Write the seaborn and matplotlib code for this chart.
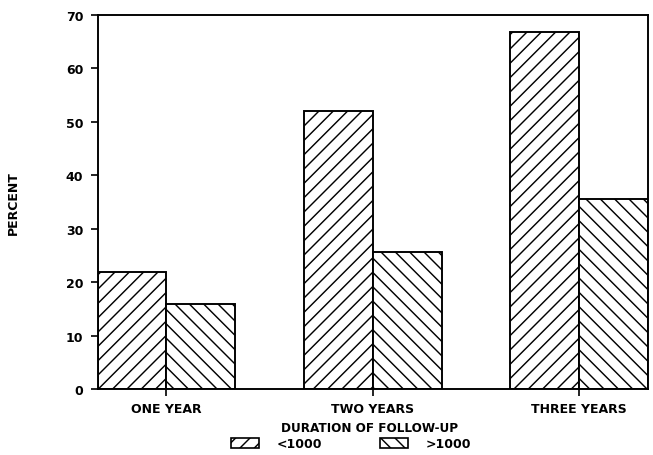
import seaborn as sns
import matplotlib.pyplot as plt
import pandas as pd
from matplotlib.patches import Patch

periods = ['ONE YEAR', 'TWO YEARS', 'THREE YEARS']
groups = ['<1000', '>1000']
below_1000 = [21.8, 51.9, 66.7]
above_1000 = [15.8, 25.6, 35.6]
hatches = ['//', '\\\\']

df = pd.DataFrame({
    'period': periods * 2,
    'group': [groups[0]] * 3 + [groups[1]] * 3,
    'percent': below_1000 + above_1000,
})

sns.set_style('ticks')
plt.rcParams['font.family'] = ['DejaVu Sans']
plt.rcParams['font.weight'] = 'bold'
plt.rcParams['text.color'] = 'black'
plt.rcParams['axes.labelcolor'] = 'black'
plt.rcParams['hatch.linewidth'] = 1.2
plt.rcParams['hatch.color'] = 'black'

dpi = 86
fig = plt.figure(figsize=(653 / dpi, 456 / dpi), dpi=dpi)
ax = fig.add_axes([0.1496, 0.1447, 0.8427, 0.8213])

sns.barplot(data=df, x='period', y='percent', hue='group', hue_order=groups,
            palette=['white', 'white'], saturation=1, width=2 / 3,
            edgecolor='black', linewidth=1.6, legend=False, ax=ax)

for cont, h in zip(ax.containers, hatches):
    for bar in cont:
        bar.set_hatch(h)

ax.set_xlim(-1 / 3, 2 + 1 / 3)
ax.set_ylim(0, 70)
ax.set_yticks(range(0, 71, 10))
ax.set_xlabel('')
ax.set_ylabel('PERCENT', fontsize=10.5, fontweight='bold', color='black')
ax.yaxis.set_label_coords(-0.141, 0.5)

for sp in ax.spines.values():
    sp.set_visible(True)
    sp.set_linewidth(1.6)
    sp.set_color('black')

ax.tick_params(axis='both', direction='out', length=6, width=1.4,
               labelsize=10.5, colors='black')
ax.tick_params(axis='y', pad=6)
ax.tick_params(axis='x', pad=5)

# legend title sits a little right of the entries, as in the original
fig.text(370 / 653, 1 - 429 / 456, 'DURATION OF FOLLOW-UP', ha='center',
         va='center', fontsize=10, fontweight='bold', color='black')

handles = [Patch(facecolor='white', edgecolor='black', linewidth=1.4, hatch=h)
           for h in hatches]
leg = fig.legend(handles, groups, ncol=2,
                 loc='center', bbox_to_anchor=(0.538, 1 - 444.5 / 456),
                 frameon=False, fontsize=10.5, labelcolor='black',
                 handlelength=2.25, handleheight=0.88, handletextpad=1.4,
                 columnspacing=4.6, borderpad=0, labelspacing=0,
                 borderaxespad=0)

plt.savefig('out.png', dpi=dpi)
